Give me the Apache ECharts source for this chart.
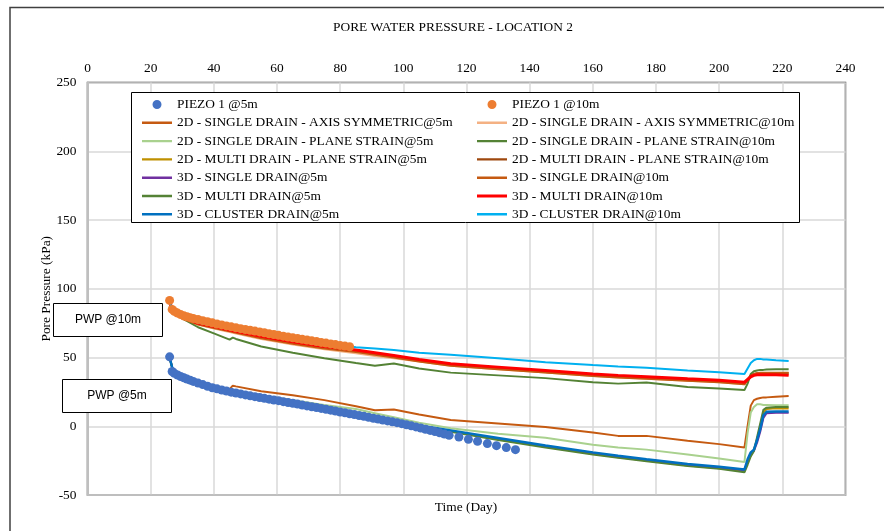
<!DOCTYPE html>
<html>
<head>
<meta charset="utf-8">
<script src="https://cdn.jsdelivr.net/npm/echarts@6/dist/echarts.min.js"></script>
<style>
  html, body { margin: 0; padding: 0; background: #fff; }
  #main { width: 884px; height: 531px; }
</style>
</head>
<body>
<div id="main"></div>
<script>
// piezometer readings [day, kPa]
var PIEZO_5M = [[26,50.5],[26.8,39.8],[27.5,38.5],[28.5,37.3],[29.5,36.2],[30.5,35.3],[31.5,34.3],[32.5,33.5],[33.5,32.6],[35,31.4],
  [36.5,30.3],[38,29.1],[39.5,28],[41,27.2],[42.5,26.4],[44,25.6],[45.5,24.8],[47,24.2],[48.5,23.5],[50,22.8],
  [51.5,22.1],[53,21.5],[54.5,20.9],[56,20.3],[57.5,19.7],[59,19.1],[60.5,18.6],[62,17.9],[63.5,17.3],[65,16.7],
  [66.5,16.1],[68,15.4],[69.5,14.8],[71,14.2],[72.5,13.6],[74,13],[75.5,12.4],[77,11.7],[78.5,11.1],[80,10.4],
  [81.5,9.8],[83,9.1],[84.5,8.5],[86,7.8],[87.5,7.2],[89,6.5],[90.5,5.8],[92,5.2],[93.5,4.5],[95,3.9],
  [96.5,3.2],[98,2.6],[99.5,1.9],[101,1.1],[102.5,0.3],[104,-0.5],[105.5,-1.3],[107,-2.2],[108.5,-3],[110,-3.9],
  [111.5,-4.8],[113,-5.7],[114.5,-6.6],[117.6,-7.8],[120.6,-9.5],[123.5,-10.9],[126.6,-12.6],[129.5,-14.1],[132.6,-15.5],[135.5,-17]];

var PIEZO_10M = [[26,91.5],[26.8,85],[27.5,83.5],[28.5,82.3],[29.5,81.2],[30.5,80.3],[31.5,79.6],[32.5,79],[33.5,78.4],[35,77.6],
  [36.5,76.8],[38,76],[39.5,75.2],[41,74.4],[42.5,73.7],[44,73],[45.5,72.3],[47,71.6],[48.5,71],[50,70.4],
  [51.5,69.8],[53,69.2],[54.5,68.6],[56,68],[57.5,67.3],[59,66.7],[60.5,66.1],[62,65.5],[63.5,64.9],[65,64.3],
  [66.5,63.8],[68,63.2],[69.5,62.7],[71,62.1],[72.5,61.6],[74,61],[75.5,60.5],[77,59.9],[78.5,59.4],[80,58.8],
  [81.5,58.3],[83,57.8]];

// model results, all on the same days
var DAYS = [26, 27, 30, 35, 40, 45, 46, 47, 55, 65, 75, 85, 91, 97, 105, 115, 130, 145, 160, 168, 177, 190, 200, 208, 209, 210, 211, 212, 213, 214, 215, 218, 222];

var AXIS_5M    = [50, 41, 36.5, 32, 29, 27, 29.5, 29, 25.5, 22.5, 19, 14.5, 11.7, 12.2, 8.5, 4.5, 2, -0.5, -4.5, -7, -7, -10.5, -13, -15.5, 0, 15, 19, 20, 20.5, 21, 21, 21.5, 22];
var AXIS_10M   = [90, 84, 78, 74, 71, 68.5, 68, 67.5, 63.5, 59.5, 56, 53, 51, 49.5, 47, 44, 41.5, 39, 36.5, 35.5, 34.5, 33, 32, 30.5, 33, 36, 37.5, 37.5, 37.5, 37.5, 37.5, 37.5, 37.5];
var SPS_5M     = [50, 41, 36.5, 31.5, 28.5, 26, 25.8, 25.5, 22.5, 19, 15.5, 12.5, 9.5, 6.5, 2.5, -1.5, -5.5, -8.3, -13.5, -15.5, -17, -20.5, -23.5, -26, -5, 10, 14, 16, 16, 15.5, 15.5, 15.3, 15.3];
var SPS_10M    = [90, 85, 78.5, 72, 67.5, 63, 64.5, 63.5, 58, 53.5, 49.5, 46, 44, 45.7, 42, 39, 37, 35, 32, 31, 31.8, 28.5, 27.5, 26.3, 31, 38, 40, 40.5, 41, 41, 41.3, 41.4, 41.4];
var MPS_5M     = [50, 41, 36, 31, 28, 25.5, 25.2, 24.8, 21.5, 18, 14, 9.5, 7, 4, 0.5, -3.5, -9.5, -15, -20, -22.5, -25, -28.5, -30.5, -32.5, -26, -21, -17, -10, 0, 10, 12.5, 13, 13];
var MPS_10M    = [90, 85, 78.5, 74.5, 72, 69.5, 69, 68.5, 64.5, 60.5, 57, 54.5, 52.5, 50.5, 47.5, 44.5, 42, 39.5, 37, 36, 35, 33.5, 32.5, 31, 34, 37, 38, 38.5, 38.5, 38.5, 38.5, 38.5, 38.5];
var SINGLE_5M  = [50, 41, 36, 31, 28, 25.5, 25.2, 24.8, 21.5, 18, 14, 9.5, 7, 4, 0.5, -3.5, -9, -14.5, -19.5, -22, -24.5, -28, -30, -32, -26, -21, -18, -12, -4, 6, 9.5, 9.8, 9.8];
var SINGLE_10M = [90, 84.5, 78.5, 74, 71.5, 69, 68.5, 68, 64, 60, 56.5, 54, 52, 50, 47, 44, 41.5, 39, 36.5, 35.5, 34.5, 33, 32, 30.5, 33.5, 36.5, 38, 38.5, 39, 39, 39, 39, 39];
var MULTI_5M   = [50, 41, 36, 31, 28, 25.5, 25.2, 24.8, 21.5, 18, 14, 9.5, 7, 4, 0, -4, -10, -15.5, -20.5, -23, -25.5, -29, -31, -33.5, -28, -22, -18, -8, 2, 12, 13.5, 14, 14];
var MULTI_10M  = [90, 85, 79, 75, 72.5, 70, 69.5, 69, 65.5, 61.5, 58, 55.5, 53.5, 51.5, 48.5, 45.5, 43, 40.5, 38, 37, 36, 34.5, 33.5, 32, 34, 36, 37, 37.5, 37.5, 37.5, 37.5, 37.5, 37];
var CLUSTER_5M = [50, 41, 36, 31, 28, 25.5, 25.2, 24.8, 21.5, 18, 14, 9.5, 7, 4, 0.5, -3, -8.5, -14, -19, -21.5, -24, -27.5, -29.5, -31.5, -24, -19, -17, -10, -2, 8, 10.5, 10.8, 10.8];
var CLUSTER_10M= [90, 85, 79.5, 75.5, 73, 71, 70.5, 70, 67, 63, 60.5, 57.5, 56.5, 55.5, 53.5, 52, 49.5, 46.5, 44.5, 43.5, 42.5, 40.5, 39.3, 38, 42, 46, 48, 49, 49, 48.5, 48.5, 48, 47.5];

var SERIF = 'Liberation Serif';
// legend icons: thin bar / small dot inside a 30x14 box (corner points only set the box)
var BOX = 'M0,0 L0,0 Z M30,14 L30,14 Z ';
var ICON_LINE = 'path://' + BOX + 'M0,5.8 L30,5.8 L30,8.2 L0,8.2 Z';
var ICON_THICK = 'path://' + BOX + 'M0,5.5 L30,5.5 L30,8.5 L0,8.5 Z';
var ICON_DOT = 'path://' + BOX + 'M10.5,7 A4.5,4.5 0 1,0 19.5,7 A4.5,4.5 0 1,0 10.5,7 Z';

function pairs(vals) {
    var out = [];
    for (var i = 0; i < DAYS.length; i++) out.push([DAYS[i], vals[i]]);
    return out;
}
function line(name, vals, color, w) {
    return {
        name: name, type: 'line', data: pairs(vals), symbol: 'none',
        lineStyle: { color: color, width: w || 2 }, itemStyle: { color: color },
        z: 2
    };
}
function dots(name, data, color) {
    return {
        name: name, type: 'scatter', data: data, symbol: 'circle', symbolSize: 9,
        itemStyle: { color: color, opacity: 1 }, z: 3
    };
}
function item(name, icon) { return { name: name, icon: icon }; }

var chart = echarts.init(document.getElementById('main'));
var legendCommon = {
    orient: 'vertical', top: 92.5, itemWidth: 30, itemHeight: 14, itemGap: 4.3,
    textStyle: { fontFamily: SERIF, fontSize: 13.4, color: '#000', lineHeight: 14 },
    selectedMode: false
};

chart.setOption({
    animation: false,
    backgroundColor: '#fff',
    grid: { left: 87.5, right: 38.5, top: 82.5, bottom: 36, show: true, borderColor: '#404040', borderWidth: 1.5, backgroundColor: 'transparent' },
    xAxis: [{
        type: 'value', position: 'top', min: 0, max: 240, interval: 20,
        axisLine: { show: false }, axisTick: { show: false },
        axisLabel: { fontFamily: SERIF, fontSize: 13.4, color: '#000', margin: 8 },
        splitLine: { lineStyle: { color: '#d9d9d9', width: 1.5 } }
    }, {
        type: 'value', position: 'bottom', min: 0, max: 240,
        axisLine: { onZero: true, lineStyle: { color: '#bfbfbf', width: 1.5 } },
        axisTick: { show: false }, axisLabel: { show: false }, splitLine: { show: false }
    }],
    yAxis: {
        type: 'value', min: -50, max: 250, interval: 50,
        name: 'Pore Pressure (kPa)', nameLocation: 'middle', nameGap: 35, nameMoveOverlap: false,
        nameTextStyle: { fontFamily: SERIF, fontSize: 13.4, color: '#000' },
        axisLine: { show: true, lineStyle: { color: '#bfbfbf', width: 2 } },
        axisTick: { show: false },
        axisLabel: { fontFamily: SERIF, fontSize: 13.4, color: '#000', margin: 11 },
        splitLine: { lineStyle: { color: '#d9d9d9', width: 1.5 } }
    },
    legend: [
        Object.assign({ left: 137, data: [
            item('PIEZO 1 @5m', ICON_DOT),
            item('2D - SINGLE DRAIN - AXIS SYMMETRIC@5m', ICON_LINE),
            item('2D - SINGLE DRAIN - PLANE STRAIN@5m', ICON_LINE),
            item('2D - MULTI DRAIN - PLANE STRAIN@5m', ICON_LINE),
            item('3D - SINGLE DRAIN@5m', ICON_LINE),
            item('3D - MULTI DRAIN@5m', ICON_LINE),
            item('3D - CLUSTER DRAIN@5m', ICON_LINE)] }, legendCommon),
        Object.assign({ left: 472, data: [
            item('PIEZO 1 @10m', ICON_DOT),
            item('2D - SINGLE DRAIN - AXIS SYMMETRIC@10m', ICON_LINE),
            item('2D - SINGLE DRAIN - PLANE STRAIN@10m', ICON_LINE),
            item('2D - MULTI DRAIN - PLANE STRAIN@10m', ICON_LINE),
            item('3D - SINGLE DRAIN@10m', ICON_LINE),
            item('3D - MULTI DRAIN@10m', ICON_THICK),
            item('3D - CLUSTER DRAIN@10m', ICON_LINE)] }, legendCommon)
    ],
    graphic: [
        // outer chart frame
        { type: 'rect', shape: { x: 10, y: 7.5, width: 900, height: 600 }, style: { fill: 'none', stroke: '#404040', lineWidth: 1.5 }, z: 1 },
        { type: 'text', x: 453, y: 27, style: { text: 'PORE WATER PRESSURE - LOCATION 2', font: '13.4px "Liberation Serif"', fill: '#000', textAlign: 'center', textVerticalAlign: 'middle' } },
        { type: 'text', x: 466, y: 507, style: { text: 'Time (Day)', font: '13.4px "Liberation Serif"', fill: '#000', textAlign: 'center', textVerticalAlign: 'middle' } },
        // legend box
        { type: 'rect', shape: { x: 131.5, y: 92.5, width: 668, height: 130 }, style: { fill: '#fff', stroke: '#000', lineWidth: 1 }, z: 3 },
        // annotation boxes
        { type: 'rect', shape: { x: 53.5, y: 303.5, width: 109, height: 33 }, style: { fill: '#fff', stroke: '#000', lineWidth: 1 }, z: 5 },
        { type: 'text', x: 108, y: 320, style: { text: 'PWP @10m', font: '12px "Liberation Sans"', fill: '#000', textAlign: 'center', textVerticalAlign: 'middle' }, z: 6 },
        { type: 'rect', shape: { x: 62.5, y: 379.5, width: 109, height: 33 }, style: { fill: '#fff', stroke: '#000', lineWidth: 1 }, z: 5 },
        { type: 'text', x: 117, y: 396, style: { text: 'PWP @5m', font: '12px "Liberation Sans"', fill: '#000', textAlign: 'center', textVerticalAlign: 'middle' }, z: 6 }
    ],
    series: [
        line('2D - SINGLE DRAIN - AXIS SYMMETRIC@5m', AXIS_5M, '#C55A11'),
        line('2D - SINGLE DRAIN - AXIS SYMMETRIC@10m', AXIS_10M, '#F4B183'),
        line('2D - SINGLE DRAIN - PLANE STRAIN@5m', SPS_5M, '#A9D18E'),
        line('2D - SINGLE DRAIN - PLANE STRAIN@10m', SPS_10M, '#548235'),
        line('2D - MULTI DRAIN - PLANE STRAIN@5m', MPS_5M, '#BF9000'),
        line('2D - MULTI DRAIN - PLANE STRAIN@10m', MPS_10M, '#9E480E'),
        line('3D - SINGLE DRAIN@5m', SINGLE_5M, '#7030A0'),
        line('3D - SINGLE DRAIN@10m', SINGLE_10M, '#C55A11'),
        line('3D - MULTI DRAIN@5m', MULTI_5M, '#548235'),
        line('3D - MULTI DRAIN@10m', MULTI_10M, '#FF0000', 3),
        line('3D - CLUSTER DRAIN@5m', CLUSTER_5M, '#0070C0', 2.5),
        line('3D - CLUSTER DRAIN@10m', CLUSTER_10M, '#00B0F0'),
        dots('PIEZO 1 @5m', PIEZO_5M, '#4472C4'),
        dots('PIEZO 1 @10m', PIEZO_10M, '#ED7D31')
    ]
});
</script>
</body>
</html>
